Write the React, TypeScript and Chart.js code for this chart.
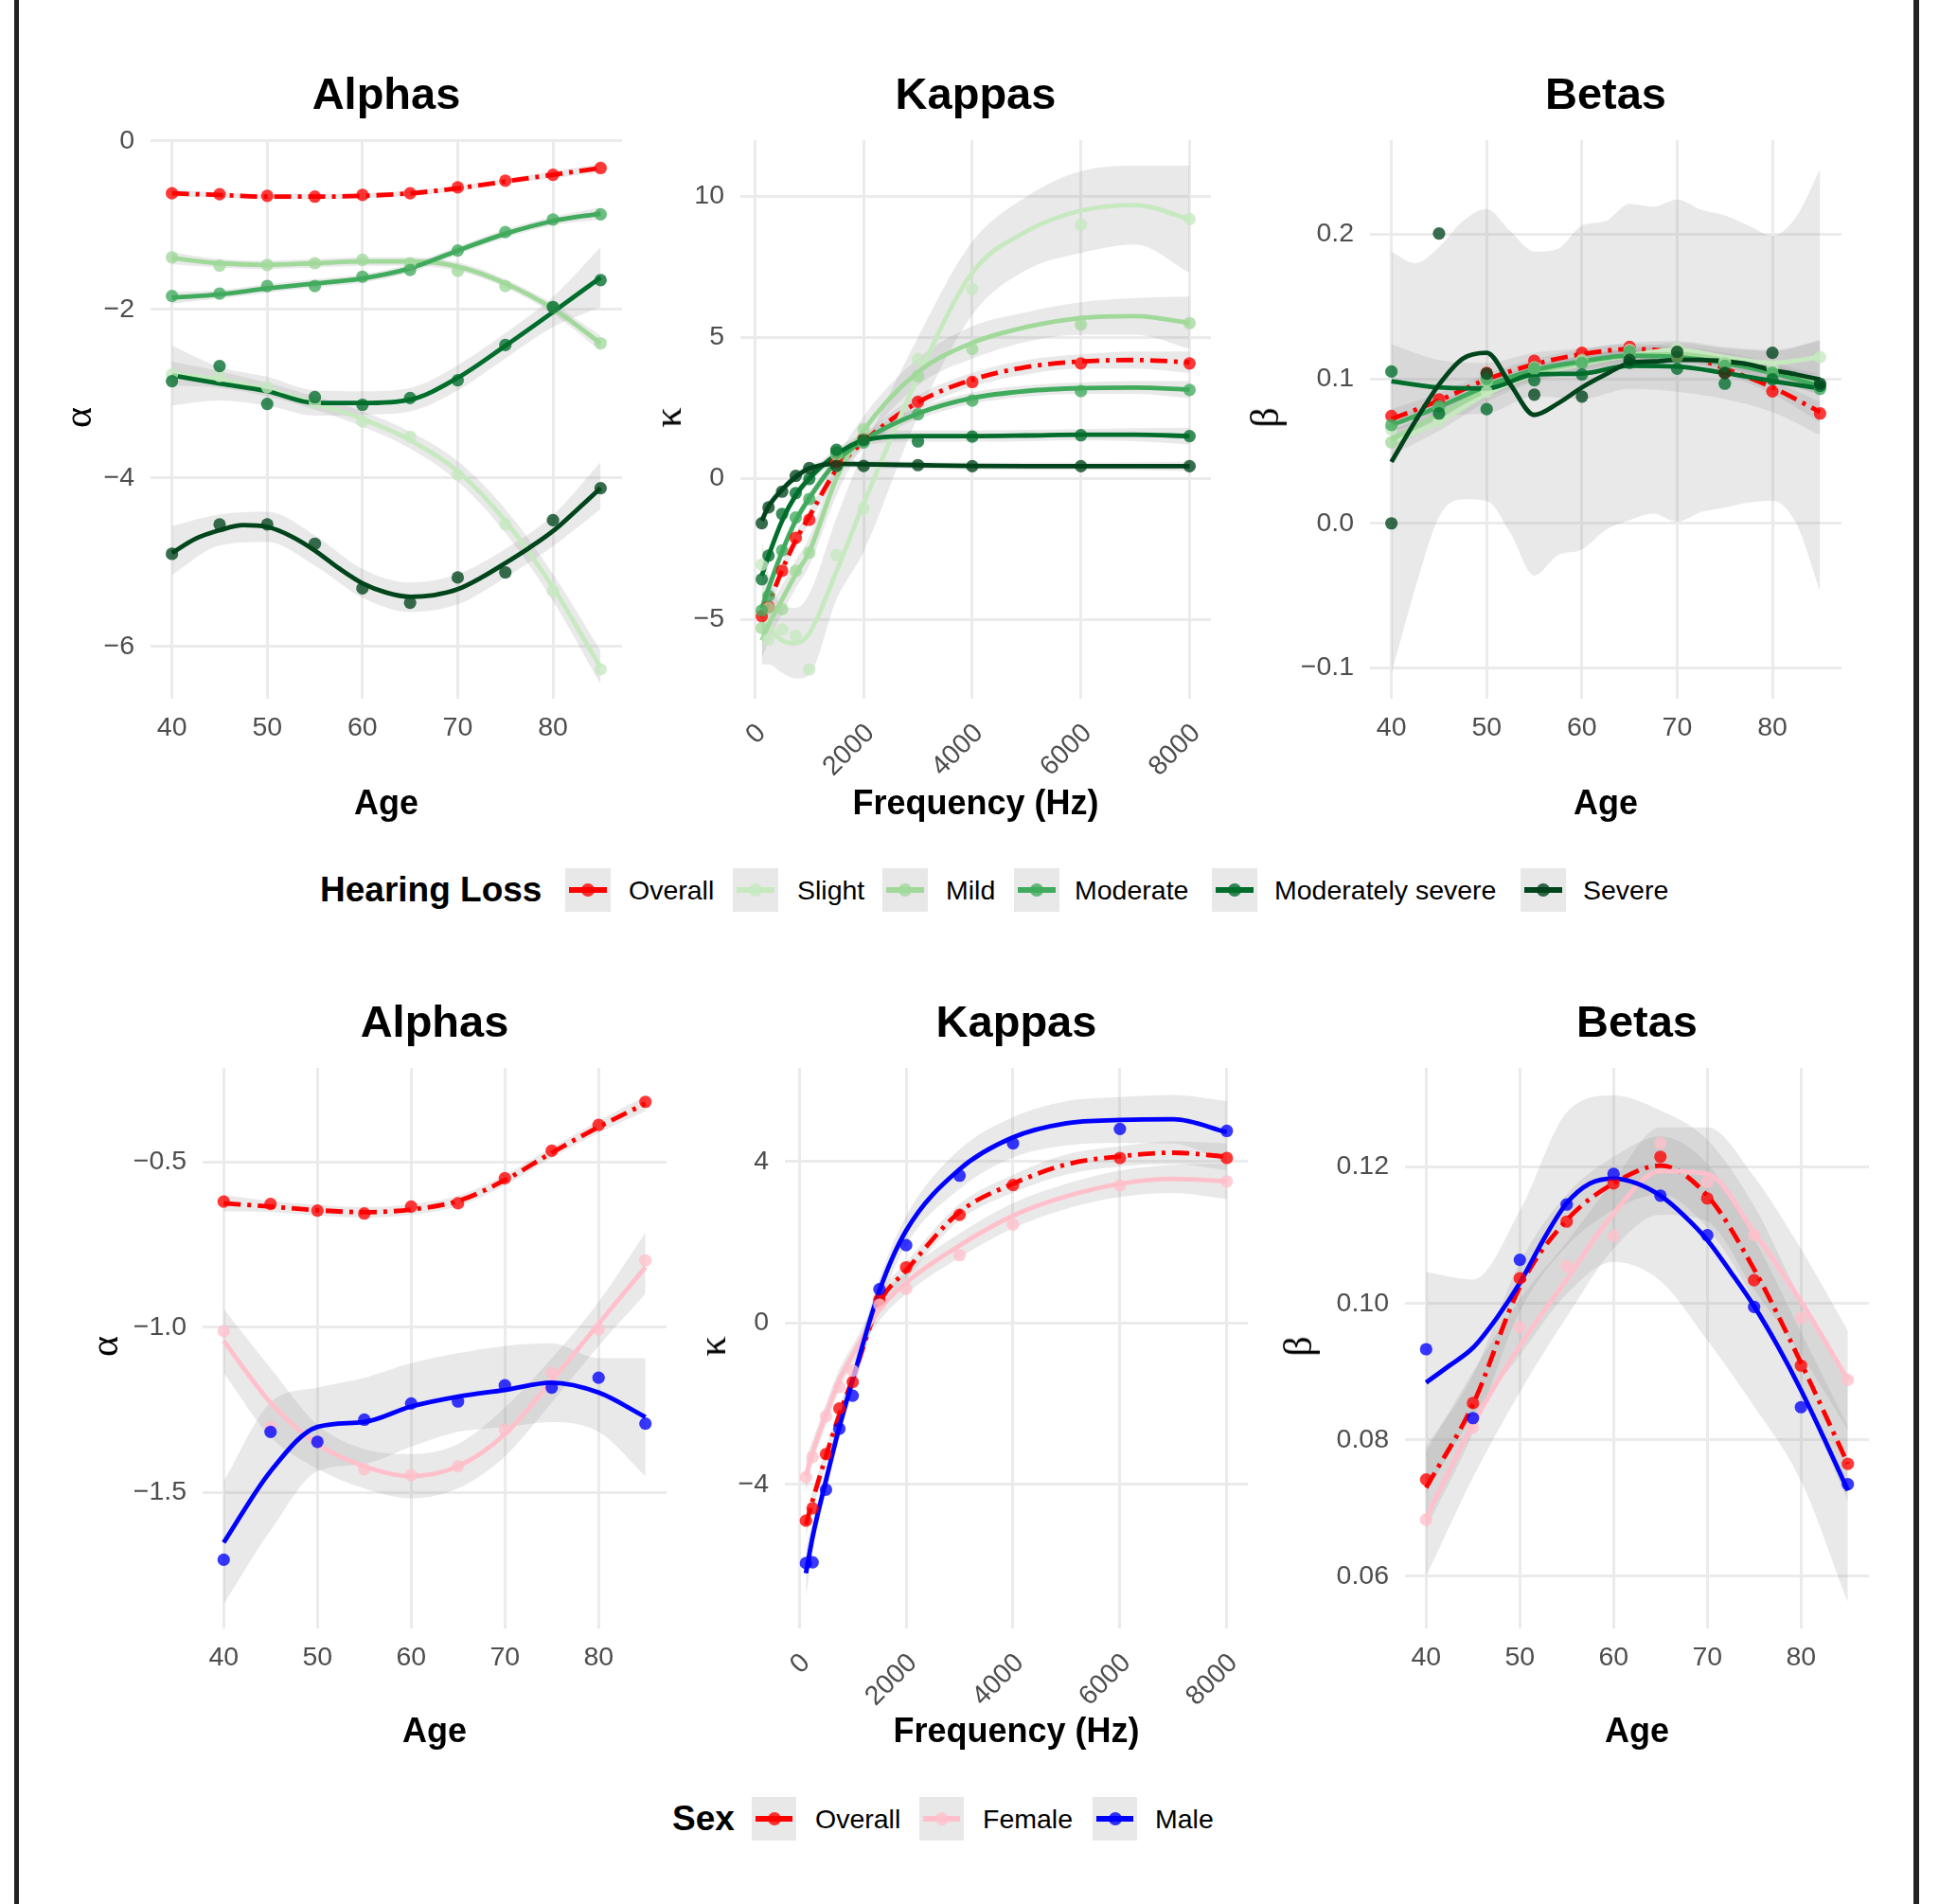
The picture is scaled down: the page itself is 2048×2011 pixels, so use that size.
import React, { useEffect, useRef } from "react";
import { Chart, registerables } from "chart.js";
Chart.register(...registerables);

// ---------------- axes / categories ----------------
const ages = [40, 45, 50, 55, 60, 65, 70, 75, 80, 85];
const agesFine = [40, 42.5, 45, 47.5, 50, 52.5, 55, 57.5, 60, 62.5, 65, 67.5, 70, 72.5, 75, 77.5, 80, 82.5, 85];
const freqs = [125, 250, 500, 750, 1000, 1500, 2000, 3000, 4000, 6000, 8000];
const freqsFit = [125, 250, 500, 750, 1000, 1500, 2000, 3000, 4000, 5000, 6000, 7000, 8000];

const ageTicks = [40, 50, 60, 70, 80];
const ageTickLabels = ["40", "50", "60", "70", "80"];
const freqTicks = [0, 2000, 4000, 6000, 8000];
const freqTickLabels = ["0", "2000", "4000", "6000", "8000"];
const alphaHLTicks = [-6, -4, -2, 0];
const alphaHLTickLabels = ["\u22126", "\u22124", "\u22122", "0"];
const kappaHLTicks = [-5, 0, 5, 10];
const kappaHLTickLabels = ["\u22125", "0", "5", "10"];
const betaHLTicks = [-0.1, 0, 0.1, 0.2];
const betaHLTickLabels = ["\u22120.1", "0.0", "0.1", "0.2"];
const alphaSexTicks = [-1.5, -1.0, -0.5];
const alphaSexTickLabels = ["\u22121.5", "\u22121.0", "\u22120.5"];
const kappaSexTicks = [-4, 0, 4];
const kappaSexTickLabels = ["\u22124", "0", "4"];
const betaSexTicks = [0.06, 0.08, 0.1, 0.12];
const betaSexTickLabels = ["0.06", "0.08", "0.10", "0.12"];

const hlGroups = ["Overall", "Slight", "Mild", "Moderate", "Moderately severe", "Severe"];
const hlColors = ["#FF0000", "#C7E9C0", "#A1D99B", "#41AB5D", "#006D2C", "#00441B"];
const sexGroups = ["Overall", "Female", "Male"];
const sexColors = ["#FF0000", "#FFC0CB", "#0000FF"];

// ---------------- Alphas by hearing loss ----------------
const aHL_overall_pts = [-0.62, -0.63, -0.65, -0.66, -0.64, -0.62, -0.55, -0.47, -0.4, -0.32];
const aHL_overall_fit = [-0.62, -0.64, -0.66, -0.66, -0.65, -0.62, -0.56, -0.48, -0.4, -0.32];
const aHL_overall_lo = [-0.66, -0.67, -0.69, -0.69, -0.68, -0.65, -0.59, -0.51, -0.44, -0.37];
const aHL_overall_hi = [-0.58, -0.61, -0.63, -0.63, -0.62, -0.59, -0.53, -0.45, -0.36, -0.27];
const aHL_slight_pts = [-2.77, -2.79, -2.92, -3.11, -3.33, -3.51, -3.96, -4.55, -5.34, -6.27];
const aHL_slight_fit = [-2.76, -2.83, -2.95, -3.11, -3.3, -3.55, -3.92, -4.51, -5.3, -6.25];
const aHL_slight_lo = [-2.9, -2.93, -3.03, -3.19, -3.39, -3.65, -4.04, -4.65, -5.46, -6.45];
const aHL_slight_hi = [-2.62, -2.73, -2.87, -3.03, -3.21, -3.45, -3.8, -4.37, -5.14, -6.05];
const aHL_mild_pts = [-1.38, -1.48, -1.47, -1.45, -1.41, -1.45, -1.54, -1.72, -1.97, -2.4];
const aHL_mild_fit = [-1.39, -1.45, -1.47, -1.45, -1.43, -1.43, -1.49, -1.69, -1.99, -2.4];
const aHL_mild_lo = [-1.46, -1.5, -1.52, -1.5, -1.48, -1.48, -1.54, -1.74, -2.05, -2.49];
const aHL_mild_hi = [-1.32, -1.4, -1.42, -1.4, -1.38, -1.38, -1.44, -1.64, -1.93, -2.31];
const aHL_moderate_pts = [-1.84, -1.81, -1.72, -1.72, -1.61, -1.53, -1.3, -1.08, -0.93, -0.87];
const aHL_moderate_fit = [-1.86, -1.82, -1.75, -1.69, -1.63, -1.51, -1.3, -1.1, -0.95, -0.86];
const aHL_moderate_lo = [-1.93, -1.87, -1.8, -1.74, -1.68, -1.56, -1.35, -1.15, -1.0, -0.93];
const aHL_moderate_hi = [-1.79, -1.77, -1.7, -1.64, -1.58, -1.46, -1.25, -1.05, -0.9, -0.79];
const aHL_modsev_pts = [-2.85, -2.67, -3.12, -3.04, -3.13, -3.05, -2.84, -2.42, -1.97, -1.65];
const aHL_modsev_fit = [-2.78, -2.88, -2.97, -3.11, -3.11, -3.07, -2.81, -2.43, -2.03, -1.62];
const aHL_modsev_lo = [-3.14, -3.08, -3.14, -3.26, -3.25, -3.21, -2.96, -2.58, -2.21, -1.97];
const aHL_modsev_hi = [-2.43, -2.68, -2.8, -2.96, -2.97, -2.93, -2.66, -2.28, -1.85, -1.26];
const aHL_severe_pts = [-4.9, -4.55, -4.55, -4.78, -5.31, -5.48, -5.18, -5.12, -4.5, -4.12];
const aHL_severe_fit = [-4.89, -4.72, -4.62, -4.56, -4.58, -4.69, -4.86, -5.07, -5.25, -5.36, -5.41, -5.39, -5.32, -5.18, -5.01, -4.83, -4.63, -4.38, -4.12];
const aHL_severe_lo = [-5.15, -4.8, -4.76, -5.04, -5.42, -5.59, -5.5, -5.18, -4.81, -4.37];
const aHL_severe_hi = [-4.57, -4.43, -4.4, -4.68, -5.08, -5.24, -5.14, -4.84, -4.44, -3.81];

// ---------------- Kappas by hearing loss ----------------
const kHL_overall_pts = [-4.89, -4.56, -3.28, -2.11, -1.47, 0.58, 1.4, 2.72, 3.42, 4.08, 4.08];
const kHL_overall_fit = [-4.95, -4.45, -3.25, -2.2, -1.35, 0.3, 1.3, 2.7, 3.5, 3.95, 4.15, 4.2, 4.12];
const kHL_overall_lo = [-5.3, -4.75, -3.5, -2.45, -1.6, 0.05, 1.05, 2.45, 3.25, 3.7, 3.9, 3.9, 3.75];
const kHL_overall_hi = [-4.6, -4.15, -3.0, -1.95, -1.1, 0.55, 1.55, 2.95, 3.75, 4.2, 4.4, 4.5, 4.5];
const kHL_slight_pts = [-3.06, -5.72, -5.36, -5.59, -6.78, -2.72, -1.06, 4.24, 6.72, 9.0, 9.2];
const kHL_slight_fit = [-4.6, -5.2, -5.75, -5.85, -5.5, -3.3, -0.9, 3.6, 7.3, 8.77, 9.5, 9.7, 9.2];
const kHL_slight_lo = [-6.6, -6.6, -6.9, -7.1, -6.96, -4.3, -2.6, 2.2, 5.8, 7.4, 8.0, 8.3, 7.3];
const kHL_slight_hi = [-2.2, -3.4, -4.5, -4.6, -4.1, -1.4, 1.0, 5.0, 8.4, 10.0, 10.9, 11.1, 11.1];
const kHL_mild_pts = [-5.31, -4.6, -4.64, -3.28, -2.64, 0.84, 1.74, 3.63, 4.59, 5.46, 5.51];
const kHL_mild_fit = [-5.75, -5.2, -4.3, -3.4, -2.6, 0.0, 1.7, 3.77, 4.81, 5.37, 5.69, 5.76, 5.51];
const kHL_mild_lo = [-6.4, -5.8, -4.8, -3.9, -3.1, -0.6, 1.2, 3.3, 4.25, 4.85, 5.1, 5.1, 4.6];
const kHL_mild_hi = [-5.1, -4.6, -3.8, -2.9, -2.1, 0.6, 2.2, 4.25, 5.4, 5.9, 6.25, 6.4, 6.45];
const kHL_moderate_pts = [-4.69, -4.17, -2.56, -1.39, -0.73, 0.92, 1.27, 2.27, 2.76, 3.1, 3.14];
const kHL_moderate_fit = [-4.6, -3.9, -2.6, -1.5, -0.7, 0.6, 1.35, 2.3, 2.85, 3.1, 3.2, 3.22, 3.15];
const kHL_moderate_lo = [-4.9, -4.2, -2.85, -1.7, -0.9, 0.4, 1.15, 2.1, 2.65, 2.9, 3.0, 3.0, 2.85];
const kHL_moderate_hi = [-4.3, -3.6, -2.35, -1.3, -0.5, 0.8, 1.55, 2.5, 3.05, 3.3, 3.4, 3.45, 3.45];
const kHL_modsev_pts = [-3.58, -2.74, -1.26, -0.52, -0.02, 1.01, 1.36, 1.31, 1.48, 1.53, 1.5];
const kHL_modsev_fit = [-3.45, -2.75, -1.5, -0.6, 0.0, 0.85, 1.35, 1.5, 1.5, 1.52, 1.55, 1.55, 1.5];
const kHL_modsev_lo = [-3.75, -3.0, -1.7, -0.8, -0.2, 0.65, 1.15, 1.3, 1.3, 1.32, 1.35, 1.32, 1.2];
const kHL_modsev_hi = [-3.15, -2.5, -1.3, -0.4, 0.2, 1.05, 1.55, 1.7, 1.7, 1.72, 1.75, 1.78, 1.8];
const kHL_severe_pts = [-1.59, -1.03, -0.47, 0.09, 0.37, 0.44, 0.44, 0.47, 0.43, 0.43, 0.43];
const kHL_severe_fit = [-1.5, -1.0, -0.4, 0.05, 0.35, 0.52, 0.5, 0.47, 0.44, 0.43, 0.43, 0.43, 0.43];
const kHL_severe_lo = [-1.8, -1.2, -0.55, -0.1, 0.2, 0.39, 0.37, 0.34, 0.31, 0.3, 0.3, 0.29, 0.26];
const kHL_severe_hi = [-1.2, -0.8, -0.25, 0.2, 0.5, 0.65, 0.63, 0.6, 0.57, 0.56, 0.56, 0.57, 0.6];

// ---------------- Betas by hearing loss ----------------
const bHL_overall_pts = [0.0743, 0.0857, 0.104, 0.1125, 0.118, 0.122, 0.116, 0.104, 0.0913, 0.076];
const bHL_overall_fit = [0.072, 0.085, 0.0995, 0.11, 0.117, 0.1205, 0.118, 0.107, 0.094, 0.077];
const bHL_overall_lo = [0.065, 0.08, 0.0955, 0.1065, 0.1135, 0.117, 0.1145, 0.1035, 0.0895, 0.07];
const bHL_overall_hi = [0.079, 0.09, 0.1035, 0.1135, 0.1205, 0.124, 0.1215, 0.1105, 0.0985, 0.084];
const bHL_slight_pts = [0.065, 0.0705, 0.091, 0.107, 0.112, 0.12, 0.121, 0.112, 0.108, 0.115];
const bHL_slight_fit = [0.0559, 0.0704, 0.0895, 0.103, 0.11, 0.116, 0.12, 0.115, 0.111, 0.115];
const bHL_slight_lo = [0.047, 0.064, 0.084, 0.098, 0.105, 0.111, 0.115, 0.109, 0.103, 0.103];
const bHL_slight_hi = [0.065, 0.077, 0.095, 0.108, 0.115, 0.121, 0.125, 0.121, 0.119, 0.127];
const bHL_mild_pts = [0.056, 0.08, 0.098, 0.108, 0.113, 0.118, 0.119, 0.111, 0.104, 0.095];
const bHL_mild_fit = [0.058, 0.075, 0.092, 0.104, 0.111, 0.116, 0.117, 0.113, 0.105, 0.096];
const bHL_mild_lo = [0.052, 0.07, 0.087, 0.099, 0.106, 0.111, 0.112, 0.108, 0.099, 0.089];
const bHL_mild_hi = [0.064, 0.08, 0.097, 0.109, 0.116, 0.121, 0.122, 0.118, 0.111, 0.103];
const bHL_moderate_pts = [0.068, 0.081, 0.1, 0.107, 0.111, 0.119, 0.115, 0.109, 0.104, 0.093];
const bHL_moderate_fit = [0.068, 0.0805, 0.095, 0.106, 0.112, 0.116, 0.115, 0.111, 0.104, 0.095];
const bHL_moderate_lo = [0.063, 0.076, 0.091, 0.102, 0.108, 0.112, 0.111, 0.107, 0.099, 0.089];
const bHL_moderate_hi = [0.073, 0.085, 0.099, 0.11, 0.116, 0.12, 0.119, 0.115, 0.109, 0.101];
const bHL_modsev_pts = [0.105, 0.076, 0.079, 0.099, 0.103, 0.111, 0.107, 0.0966, 0.0996, 0.095];
const bHL_modsev_fit = [0.0984, 0.094, 0.0933, 0.103, 0.1036, 0.109, 0.1085, 0.104, 0.0984, 0.0933];
const bHL_modsev_lo = [0.073, 0.075, 0.076, 0.088, 0.086, 0.093, 0.091, 0.086, 0.077, 0.061];
const bHL_modsev_hi = [0.124, 0.113, 0.111, 0.118, 0.121, 0.125, 0.126, 0.122, 0.12, 0.126];
const bHL_severe_pts = [0.0, 0.2005, 0.1036, 0.089, 0.0877, 0.113, 0.1186, 0.104, 0.118, 0.0966];
const bHL_severe_fit = [0.0425, 0.0705, 0.096, 0.114, 0.118, 0.096, 0.075, 0.083, 0.094, 0.103, 0.111, 0.112, 0.113, 0.113, 0.112, 0.11, 0.106, 0.103, 0.0995];
const bHL_severe_lo = [-0.104, -0.045, 0.0045, 0.0167, 0.0156, -0.0067, -0.036, -0.022, -0.018, -0.0045, 0.0022, 0.0067, 0.001, 0.0078, 0.011, 0.0145, 0.0156, 0.0, -0.047];
const bHL_severe_hi = [0.188, 0.18, 0.191, 0.209, 0.2175, 0.202, 0.188, 0.19, 0.206, 0.209, 0.221, 0.219, 0.224, 0.217, 0.213, 0.206, 0.199, 0.212, 0.245];

// ---------------- Alphas by sex ----------------
const aSX_overall_pts = [-0.62, -0.627, -0.647, -0.656, -0.635, -0.625, -0.549, -0.466, -0.388, -0.318];
const aSX_overall_fit = [-0.625, -0.635, -0.646, -0.652, -0.644, -0.618, -0.555, -0.472, -0.394, -0.323];
const aSX_overall_lo = [-0.65, -0.652, -0.662, -0.668, -0.66, -0.634, -0.571, -0.488, -0.412, -0.346];
const aSX_overall_hi = [-0.6, -0.618, -0.63, -0.636, -0.628, -0.602, -0.539, -0.456, -0.376, -0.3];
const aSX_female_pts = [-1.012, -1.302, -1.347, -1.43, -1.448, -1.421, -1.31, -1.138, -1.007, -0.798];
const aSX_female_fit = [-1.042, -1.228, -1.354, -1.421, -1.451, -1.421, -1.324, -1.161, -0.99, -0.818];
const aSX_female_lo = [-1.138, -1.332, -1.429, -1.488, -1.518, -1.488, -1.391, -1.228, -1.057, -0.9];
const aSX_female_hi = [-0.945, -1.124, -1.295, -1.369, -1.384, -1.354, -1.243, -1.094, -0.923, -0.714];
const aSX_male_pts = [-1.704, -1.317, -1.347, -1.28, -1.231, -1.225, -1.176, -1.183, -1.153, -1.292];
const aSX_male_fit = [-1.652, -1.436, -1.302, -1.287, -1.24, -1.21, -1.19, -1.168, -1.198, -1.272];
const aSX_male_lo = [-1.838, -1.615, -1.436, -1.414, -1.362, -1.317, -1.302, -1.287, -1.317, -1.451];
const aSX_male_hi = [-1.466, -1.228, -1.183, -1.153, -1.109, -1.079, -1.057, -1.049, -1.094, -1.094];

// ---------------- Kappas by sex ----------------
const kSX_overall_pts = [-4.9, -4.59, -3.25, -2.12, -1.46, 0.58, 1.38, 2.68, 3.42, 4.09, 4.09];
const kSX_overall_fit = [-5.0, -4.4, -3.3, -2.27, -1.38, 0.5, 1.3, 2.75, 3.45, 3.93, 4.13, 4.22, 4.12];
const kSX_overall_lo = [-5.3, -4.65, -3.5, -2.47, -1.58, 0.3, 1.1, 2.55, 3.23, 3.68, 3.88, 3.94, 3.79];
const kSX_overall_hi = [-4.7, -4.15, -3.1, -2.07, -1.18, 0.7, 1.5, 2.95, 3.67, 4.18, 4.38, 4.5, 4.45];
const kSX_female_pts = [-3.82, -3.32, -2.31, -1.59, -1.18, 0.45, 0.85, 1.68, 2.44, 3.41, 3.51];
const kSX_female_fit = [-3.78, -3.2, -2.27, -1.41, -0.79, 0.33, 1.0, 1.92, 2.66, 3.14, 3.45, 3.57, 3.51];
const kSX_female_lo = [-4.2, -3.5, -2.54, -1.67, -1.03, 0.06, 0.72, 1.62, 2.35, 2.83, 3.12, 3.22, 3.07];
const kSX_female_hi = [-3.35, -2.9, -2.0, -1.15, -0.55, 0.6, 1.28, 2.22, 2.97, 3.45, 3.78, 3.92, 3.95];
const kSX_male_pts = [-5.95, -5.93, -4.13, -2.62, -1.8, 0.84, 1.93, 3.65, 4.45, 4.81, 4.76];
const kSX_male_fit = [-6.2, -5.3, -3.9, -2.58, -1.41, 0.8, 2.29, 3.81, 4.6, 4.95, 5.03, 5.05, 4.73];
const kSX_male_lo = [-6.8, -5.7, -4.2, -2.86, -1.72, 0.42, 1.93, 3.32, 4.1, 4.4, 4.46, 4.45, 3.96];
const kSX_male_hi = [-5.6, -4.9, -3.6, -2.3, -1.1, 1.1, 2.65, 4.3, 5.1, 5.5, 5.6, 5.65, 5.5];

// ---------------- Betas by sex ----------------
const bSX_overall_pts = [0.0742, 0.0854, 0.1037, 0.112, 0.1176, 0.1215, 0.1154, 0.1034, 0.0909, 0.0765];
const bSX_overall_fit = [0.073, 0.0852, 0.1024, 0.1122, 0.1176, 0.1202, 0.1158, 0.105, 0.0913, 0.0765];
const bSX_overall_lo = [0.067, 0.081, 0.0988, 0.1084, 0.1137, 0.116, 0.1111, 0.1005, 0.0868, 0.071];
const bSX_overall_hi = [0.079, 0.0895, 0.106, 0.116, 0.1215, 0.1245, 0.1205, 0.1095, 0.0958, 0.082];
const bSX_female_pts = [0.0683, 0.0818, 0.0965, 0.1055, 0.1099, 0.1235, 0.1178, 0.11, 0.0979, 0.0888];
const bSX_female_fit = [0.0686, 0.0823, 0.0938, 0.1035, 0.1132, 0.1194, 0.119, 0.1104, 0.1003, 0.0888];
const bSX_female_lo = [0.06, 0.0745, 0.087, 0.098, 0.108, 0.113, 0.112, 0.102, 0.0925, 0.0815];
const bSX_female_hi = [0.0783, 0.09, 0.1006, 0.109, 0.118, 0.1258, 0.1258, 0.1186, 0.108, 0.096];
const bSX_male_pts = [0.0933, 0.0832, 0.1064, 0.1145, 0.119, 0.1158, 0.11, 0.0995, 0.0848, 0.0735];
const bSX_male_fit = [0.0884, 0.0909, 0.0935, 0.0978, 0.103, 0.1093, 0.1147, 0.1176, 0.1183, 0.1176, 0.1158, 0.1129, 0.1093, 0.1046, 0.0996, 0.0938, 0.0873, 0.0801, 0.0726];
const bSX_male_lo = [0.0722, 0.0835, 0.0924, 0.1014, 0.1061, 0.1033, 0.0946, 0.0849, 0.074, 0.0562];
const bSX_male_hi = [0.1046, 0.1035, 0.1136, 0.128, 0.1305, 0.1283, 0.124, 0.1143, 0.1006, 0.089];

// ---------------- styling / layout ----------------
const SANS = "'Liberation Sans', Arial, Helvetica, sans-serif";
const SERIF = "'Liberation Serif', 'DejaVu Serif', serif";
const BAND = "rgba(153,153,153,0.22)";
const KEYBG = "#E8E8E8";
const GRID = "#EBEBEB";
const TICKCOL = "#4D4D4D";
const DASH = [18, 7, 4, 7];
const AXW = 130;
const PADT = 30;
const PADR = 40;
const AXH = 110;

type Series = {
  color: string;
  dashed: boolean;
  px: number[];
  py: number[];
  fx: number[];
  fy: number[];
  bx: number[];
  lo: number[];
  hi: number[];
};

type Panel = {
  key: string;
  l: number;
  t: number;
  w: number;
  h: number;
  xmin: number;
  xmax: number;
  ymin: number;
  ymax: number;
  xt: number[];
  xl: string[];
  yt: number[];
  yl: string[];
  rot: number;
  series: Series[];
  title: string;
  xTitle: string;
  yTitle: string;
  yTitleX: number;
  titleBase: number;
  xTitleBase: number;
};

function rgba(hex: string, a: number) {
  const r = parseInt(hex.slice(1, 3), 16);
  const g = parseInt(hex.slice(3, 5), 16);
  const b = parseInt(hex.slice(5, 7), 16);
  return `rgba(${r},${g},${b},${a})`;
}

function S(color: string, dashed: boolean, px: number[], py: number[], fx: number[], fy: number[], bx: number[], lo: number[], hi: number[]): Series {
  return { color, dashed, px, py, fx, fy, bx, lo, hi };
}

const AGE_MIN = 37.75;
const AGE_MAX = 87.25;
const F_MIN = -268.75;
const F_MAX = 8393.75;

const panels: Panel[] = [
  {
    key: "aHL", l: 159, t: 144, w: 498, h: 594, xmin: AGE_MIN, xmax: AGE_MAX, ymin: -6.62, ymax: 0.01,
    xt: ageTicks, xl: ageTickLabels, yt: alphaHLTicks, yl: alphaHLTickLabels, rot: 0,
    title: "Alphas", xTitle: "Age", yTitle: "\u03b1", yTitleX: 82, titleBase: 115, xTitleBase: 860,
    series: [
      S(hlColors[0], true, ages, aHL_overall_pts, ages, aHL_overall_fit, ages, aHL_overall_lo, aHL_overall_hi),
      S(hlColors[1], false, ages, aHL_slight_pts, ages, aHL_slight_fit, ages, aHL_slight_lo, aHL_slight_hi),
      S(hlColors[2], false, ages, aHL_mild_pts, ages, aHL_mild_fit, ages, aHL_mild_lo, aHL_mild_hi),
      S(hlColors[3], false, ages, aHL_moderate_pts, ages, aHL_moderate_fit, ages, aHL_moderate_lo, aHL_moderate_hi),
      S(hlColors[4], false, ages, aHL_modsev_pts, ages, aHL_modsev_fit, ages, aHL_modsev_lo, aHL_modsev_hi),
      S(hlColors[5], false, ages, aHL_severe_pts, agesFine, aHL_severe_fit, ages, aHL_severe_lo, aHL_severe_hi),
    ],
  },
  {
    key: "kHL", l: 782, t: 144, w: 497, h: 594, xmin: F_MIN, xmax: F_MAX, ymin: -7.82, ymax: 12.0,
    xt: freqTicks, xl: freqTickLabels, yt: kappaHLTicks, yl: kappaHLTickLabels, rot: 45,
    title: "Kappas", xTitle: "Frequency (Hz)", yTitle: "\u03ba", yTitleX: 705, titleBase: 115, xTitleBase: 860,
    series: [
      S(hlColors[0], true, freqs, kHL_overall_pts, freqsFit, kHL_overall_fit, freqsFit, kHL_overall_lo, kHL_overall_hi),
      S(hlColors[1], false, freqs, kHL_slight_pts, freqsFit, kHL_slight_fit, freqsFit, kHL_slight_lo, kHL_slight_hi),
      S(hlColors[2], false, freqs, kHL_mild_pts, freqsFit, kHL_mild_fit, freqsFit, kHL_mild_lo, kHL_mild_hi),
      S(hlColors[3], false, freqs, kHL_moderate_pts, freqsFit, kHL_moderate_fit, freqsFit, kHL_moderate_lo, kHL_moderate_hi),
      S(hlColors[4], false, freqs, kHL_modsev_pts, freqsFit, kHL_modsev_fit, freqsFit, kHL_modsev_lo, kHL_modsev_hi),
      S(hlColors[5], false, freqs, kHL_severe_pts, freqsFit, kHL_severe_fit, freqsFit, kHL_severe_lo, kHL_severe_hi),
    ],
  },
  {
    key: "bHL", l: 1447, t: 144, w: 498, h: 594, xmin: AGE_MIN, xmax: AGE_MAX, ymin: -0.1213, ymax: 0.265,
    xt: ageTicks, xl: ageTickLabels, yt: betaHLTicks, yl: betaHLTickLabels, rot: 0,
    title: "Betas", xTitle: "Age", yTitle: "\u03b2", yTitleX: 1336, titleBase: 115, xTitleBase: 860,
    series: [
      S(hlColors[0], true, ages, bHL_overall_pts, ages, bHL_overall_fit, ages, bHL_overall_lo, bHL_overall_hi),
      S(hlColors[1], false, ages, bHL_slight_pts, ages, bHL_slight_fit, ages, bHL_slight_lo, bHL_slight_hi),
      S(hlColors[2], false, ages, bHL_mild_pts, ages, bHL_mild_fit, ages, bHL_mild_lo, bHL_mild_hi),
      S(hlColors[3], false, ages, bHL_moderate_pts, ages, bHL_moderate_fit, ages, bHL_moderate_lo, bHL_moderate_hi),
      S(hlColors[4], false, ages, bHL_modsev_pts, ages, bHL_modsev_fit, ages, bHL_modsev_lo, bHL_modsev_hi),
      S(hlColors[5], false, ages, bHL_severe_pts, agesFine, bHL_severe_fit, agesFine, bHL_severe_lo, bHL_severe_hi),
    ],
  },
  {
    key: "aSX", l: 214, t: 1124, w: 490, h: 596, xmin: AGE_MIN, xmax: AGE_MAX, ymin: -1.912, ymax: -0.2158,
    xt: ageTicks, xl: ageTickLabels, yt: alphaSexTicks, yl: alphaSexTickLabels, rot: 0,
    title: "Alphas", xTitle: "Age", yTitle: "\u03b1", yTitleX: 110, titleBase: 1095, xTitleBase: 1840,
    series: [
      S(sexColors[0], true, ages, aSX_overall_pts, ages, aSX_overall_fit, ages, aSX_overall_lo, aSX_overall_hi),
      S(sexColors[1], false, ages, aSX_female_pts, ages, aSX_female_fit, ages, aSX_female_lo, aSX_female_hi),
      S(sexColors[2], false, ages, aSX_male_pts, ages, aSX_male_fit, ages, aSX_male_lo, aSX_male_hi),
    ],
  },
  {
    key: "kSX", l: 829, t: 1124, w: 489, h: 596, xmin: F_MIN, xmax: F_MAX, ymin: -7.57, ymax: 6.317,
    xt: freqTicks, xl: freqTickLabels, yt: kappaSexTicks, yl: kappaSexTickLabels, rot: 45,
    title: "Kappas", xTitle: "Frequency (Hz)", yTitle: "\u03ba", yTitleX: 752, titleBase: 1095, xTitleBase: 1840,
    series: [
      S(sexColors[0], true, freqs, kSX_overall_pts, freqsFit, kSX_overall_fit, freqsFit, kSX_overall_lo, kSX_overall_hi),
      S(sexColors[1], false, freqs, kSX_female_pts, freqsFit, kSX_female_fit, freqsFit, kSX_female_lo, kSX_female_hi),
      S(sexColors[2], false, freqs, kSX_male_pts, freqsFit, kSX_male_fit, freqsFit, kSX_male_lo, kSX_male_hi),
    ],
  },
  {
    key: "bSX", l: 1484, t: 1124, w: 490, h: 596, xmin: AGE_MIN, xmax: AGE_MAX, ymin: 0.05236, ymax: 0.1345,
    xt: ageTicks, xl: ageTickLabels, yt: betaSexTicks, yl: betaSexTickLabels, rot: 0,
    title: "Betas", xTitle: "Age", yTitle: "\u03b2", yTitleX: 1371, titleBase: 1095, xTitleBase: 1840,
    series: [
      S(sexColors[0], true, ages, bSX_overall_pts, ages, bSX_overall_fit, ages, bSX_overall_lo, bSX_overall_hi),
      S(sexColors[1], false, ages, bSX_female_pts, ages, bSX_female_fit, ages, bSX_female_lo, bSX_female_hi),
      S(sexColors[2], false, ages, bSX_male_pts, agesFine, bSX_male_fit, ages, bSX_male_lo, bSX_male_hi),
    ],
  },
];

function xy(xs: number[], ys: number[]) {
  return xs.map((x, i) => ({ x, y: ys[i] }));
}

function PanelChart({ p }: { p: Panel }) {
  const ref = useRef<HTMLCanvasElement | null>(null);
  const cw = AXW + p.w + PADR;
  const ch = PADT + p.h + AXH;
  useEffect(() => {
    const cv = ref.current;
    if (!cv) return;
    const ds: any[] = [];
    p.series.forEach((s, k) => {
      ds.push({
        data: xy(s.bx, s.hi), fill: "+1", backgroundColor: BAND, borderColor: "rgba(0,0,0,0)",
        borderWidth: 0, pointRadius: 0, cubicInterpolationMode: "monotone", order: 300 - k,
      });
      ds.push({
        data: xy(s.bx, s.lo), fill: false, borderColor: "rgba(0,0,0,0)",
        borderWidth: 0, pointRadius: 0, cubicInterpolationMode: "monotone", order: 300 - k,
      });
    });
    p.series.forEach((s, k) => {
      ds.push({
        data: xy(s.fx, s.fy), fill: false, borderColor: s.color, borderWidth: 4.8,
        borderDash: s.dashed ? DASH : [], borderCapStyle: "butt", pointRadius: 0,
        cubicInterpolationMode: "monotone", order: 200 - k,
      });
    });
    p.series.forEach((s, k) => {
      ds.push({
        data: xy(s.px, s.py), showLine: false, fill: false, pointRadius: 6.6, pointHoverRadius: 6.6,
        pointBackgroundColor: rgba(s.color, 0.78), pointBorderColor: "rgba(0,0,0,0)", pointBorderWidth: 0,
        borderColor: "rgba(0,0,0,0)", order: 100 - k,
      });
    });
    const tickFont = { family: SANS, size: 28.5 };
    const chart = new Chart(cv, {
      type: "line",
      data: { datasets: ds },
      options: {
        animation: false,
        responsive: false,
        devicePixelRatio: 1,
        events: [],
        layout: { padding: { top: PADT, right: PADR, left: 0, bottom: 0 } },
        plugins: { legend: { display: false }, tooltip: { enabled: false }, title: { display: false } },
        scales: {
          x: {
            type: "linear", min: p.xmin, max: p.xmax, bounds: "data",
            border: { display: false },
            grid: { color: GRID, lineWidth: 3, drawTicks: false },
            ticks: {
              autoSkip: false, maxRotation: p.rot, minRotation: p.rot,
              padding: p.rot ? 20 : 14, labelOffset: p.rot ? 7 : 0,
              font: tickFont, color: TICKCOL,
              callback: (_v: any, i: number) => p.xl[i],
            },
            afterBuildTicks: (sc: any) => { sc.ticks = p.xt.map((v) => ({ value: v })); },
            afterFit: (sc: any) => { sc.height = AXH; },
          },
          y: {
            type: "linear", min: p.ymin, max: p.ymax, bounds: "data",
            border: { display: false },
            grid: { color: GRID, lineWidth: 3, drawTicks: false },
            ticks: {
              padding: 17, font: tickFont, color: TICKCOL,
              callback: (_v: any, i: number) => p.yl[i],
            },
            afterBuildTicks: (sc: any) => { sc.ticks = p.yt.map((v) => ({ value: v })); },
            afterFit: (sc: any) => { sc.width = AXW; },
          },
        },
      } as any,
    });
    return () => chart.destroy();
  }, [p]);

  const cx = p.l + p.w / 2;
  const cy = p.t + p.h / 2;
  return (
    <>
      <canvas
        ref={ref}
        width={cw}
        height={ch}
        style={{ position: "absolute", left: p.l - AXW, top: p.t - PADT, width: cw, height: ch }}
      />
      <div
        style={{
          position: "absolute", left: cx - 300, width: 600, top: p.titleBase - 0.8465 * 47,
          fontSize: 47, lineHeight: "47px", fontWeight: "bold", textAlign: "center", color: "#000", fontFamily: SANS,
        }}
      >
        {p.title}
      </div>
      <div
        style={{
          position: "absolute", left: cx - 300, width: 600, top: p.xTitleBase - 0.8465 * 36,
          fontSize: 36, lineHeight: "36px", fontWeight: "bold", textAlign: "center", color: "#000", fontFamily: SANS,
        }}
      >
        {p.xTitle}
      </div>
      <div
        style={{
          position: "absolute", left: p.yTitleX, top: cy, transform: "translate(-50%, -50%) rotate(-90deg)",
          fontSize: 42, lineHeight: "42px", color: "#000", fontFamily: SERIF, whiteSpace: "nowrap",
        }}
      >
        {p.yTitle}
      </div>
    </>
  );
}

function Legend({ title, names, colors, titleX, keyX, labelX, cy, keyW }: {
  title: string; names: string[]; colors: string[]; titleX: number; keyX: number[]; labelX: number[]; cy: number; keyW: number;
}) {
  const keyH = 46;
  return (
    <>
      <div style={{ position: "absolute", left: titleX, top: cy - 20, fontSize: 37, lineHeight: "40px", fontWeight: "bold", fontFamily: SANS, color: "#000", whiteSpace: "nowrap" }}>
        {title}
      </div>
      {names.map((n, i) => (
        <React.Fragment key={n}>
          <div style={{ position: "absolute", left: keyX[i], top: cy - keyH / 2, width: keyW, height: keyH, background: KEYBG }}>
            <div style={{ position: "absolute", left: 4, right: 4, top: keyH / 2 - 3, height: 6, background: colors[i] }} />
            <div style={{ position: "absolute", left: keyW / 2 - 7, top: keyH / 2 - 7, width: 14, height: 14, borderRadius: 7, background: rgba(colors[i], 0.8) }} />
          </div>
          <div style={{ position: "absolute", left: labelX[i], top: cy - 18, fontSize: 28.5, lineHeight: "36px", fontFamily: SANS, color: "#000", whiteSpace: "nowrap" }}>
            {n}
          </div>
        </React.Fragment>
      ))}
    </>
  );
}

export default function App() {
  return (
    <div style={{ position: "absolute", left: 0, top: 0, width: 2048, height: 2011, background: "#fff", overflow: "hidden", fontFamily: SANS }}>
      <div style={{ position: "absolute", left: 15, top: 0, width: 5, height: 2011, background: "#222" }} />
      <div style={{ position: "absolute", left: 2021, top: 0, width: 5.5, height: 2011, background: "#222" }} />
      {panels.map((p) => (
        <PanelChart key={p.key} p={p} />
      ))}
      <Legend
        title="Hearing Loss" names={hlGroups} colors={hlColors} titleX={338}
        keyX={[597, 774, 932, 1071, 1280, 1606]} labelX={[664, 842, 999, 1135, 1346, 1672]} cy={940} keyW={48}
      />
      <Legend
        title="Sex" names={sexGroups} colors={sexColors} titleX={710}
        keyX={[794, 971, 1154]} labelX={[861, 1038, 1220]} cy={1921} keyW={47}
      />
    </div>
  );
}
